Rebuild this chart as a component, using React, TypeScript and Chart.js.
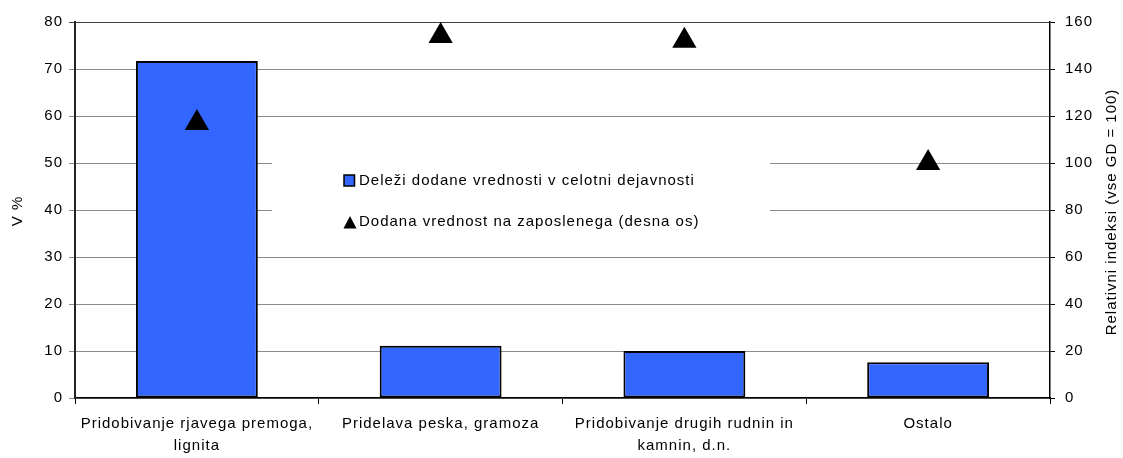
import React, { useEffect, useRef } from "react";
import { Chart, registerables } from "chart.js";

Chart.register(...registerables);

const categories: (string | string[])[] = [
  ["Pridobivanje rjavega premoga,", "lignita"],
  "Pridelava peska, gramoza",
  ["Pridobivanje drugih rudnin in", "kamnin, d.n."],
  "Ostalo",
];
const shareValues = [71.7, 11.1, 10.0, 7.6];
const perEmployeeValues = [117, 154, 152, 100];
const leftTicks = { min: 0, max: 80, step: 10 };
const rightTicks = { min: 0, max: 160, step: 20 };
const seriesNames = [
  "Deleži dodane vrednosti v celotni dejavnosti",
  "Dodana vrednost na zaposlenega (desna os)",
];
const leftTitle = "V %";
const rightTitle = "Relativni indeksi (vse GD = 100)";

const FONT = "'Liberation Sans', Arial, sans-serif";
const FS = 15;
const SPACING = "1px";
const BAR_COLOR = "#3366FF";

const setSpacing = (chart: any) => {
  try {
    (chart.ctx as any).letterSpacing = SPACING;
  } catch (e) {}
};

const overlayPlugin = {
  id: "overlay",
  beforeInit: setSpacing,
  beforeUpdate: setSpacing,
  beforeLayout: setSpacing,
  beforeDraw: setSpacing,
  beforeDatasetsDraw(chart: any) {
    const ctx = chart.ctx;
    ctx.save();
    ctx.fillStyle = "#ffffff";
    ctx.fillRect(272, 138, 498, 102);
    ctx.restore();
  },
  afterDatasetsDraw(chart: any) {
    const ctx = chart.ctx;
    ctx.save();
    (ctx as any).letterSpacing = SPACING;
    // legend item 1: square
    ctx.fillStyle = BAR_COLOR;
    ctx.strokeStyle = "#000";
    ctx.lineWidth = 1.5;
    ctx.fillRect(344, 175, 10.5, 11);
    ctx.strokeRect(344, 175, 10.5, 11);
    // legend item 2: triangle
    ctx.fillStyle = "#000";
    ctx.beginPath();
    ctx.moveTo(350, 216);
    ctx.lineTo(356.5, 228.5);
    ctx.lineTo(343.5, 228.5);
    ctx.closePath();
    ctx.fill();
    ctx.font = `${FS}px ${FONT}`;
    ctx.textBaseline = "middle";
    ctx.textAlign = "left";
    ctx.fillText(seriesNames[0], 359, 181);
    ctx.fillText(seriesNames[1], 359, 222);
    // axis titles
    ctx.textAlign = "center";
    ctx.save();
    ctx.translate(18, 211);
    ctx.rotate(-Math.PI / 2);
    ctx.fillText(leftTitle, 0, 0);
    ctx.restore();
    ctx.save();
    ctx.translate(1112, 212);
    ctx.rotate(-Math.PI / 2);
    ctx.fillText(rightTitle, 0, 0);
    ctx.restore();
    ctx.restore();
  },
};

export default function App() {
  const ref = useRef<HTMLCanvasElement>(null);
  useEffect(() => {
    if (!ref.current) return;
    Chart.defaults.font.family = FONT;
    const chart = new Chart(ref.current, {
      type: "bar",
      data: {
        labels: categories,
        datasets: [
          {
            type: "bar",
            label: seriesNames[0],
            data: shareValues,
            backgroundColor: BAR_COLOR,
            borderColor: "#000",
            borderWidth: 2,
            borderSkipped: false,
            barPercentage: 0.5,
            categoryPercentage: 1,
            yAxisID: "y",
            order: 2,
          } as any,
          {
            type: "line",
            label: seriesNames[1],
            data: perEmployeeValues,
            showLine: false,
            pointStyle: "triangle",
            pointRadius: 14,
            pointHoverRadius: 14,
            backgroundColor: "#000",
            borderColor: "#000",
            borderWidth: 0,
            yAxisID: "y1",
            clip: false,
            order: 1,
          } as any,
        ],
      },
      options: {
        responsive: false,
        animation: false,
        devicePixelRatio: 1,
        layout: { padding: { top: 22, left: 0, right: 0, bottom: 0 } },
        plugins: {
          legend: { display: false },
          tooltip: { enabled: false },
          title: { display: false },
        },
        scales: {
          x: {
            type: "category",
            offset: true,
            grid: {
              offset: true,
              drawOnChartArea: false,
              drawTicks: true,
              tickLength: 6,
              color: "#000",
            },
            border: { color: "#000", width: 1.5 },
            ticks: {
              color: "#000",
              font: { size: FS, lineHeight: 22 / FS },
              padding: 9,
              maxRotation: 0,
              autoSkip: false,
            },
            afterFit: (s: any) => {
              s.height = 60;
            },
          },
          y: {
            position: "left",
            min: leftTicks.min,
            max: leftTicks.max,
            grid: {
              color: (c: any) => (c.tick && c.tick.value === leftTicks.max ? "#404040" : "#8c8c8c"),
              tickLength: 6,
              lineWidth: 1,
            },
            border: { color: "#222", width: 2 },
            ticks: {
              stepSize: leftTicks.step,
              color: "#000",
              font: { size: FS },
              padding: 6,
            },
            afterFit: (s: any) => {
              s.width = 75;
            },
          },
          y1: {
            position: "right",
            min: rightTicks.min,
            max: rightTicks.max,
            grid: {
              drawOnChartArea: false,
              tickLength: 5,
              color: "#000",
            },
            border: { color: "#000", width: 1.5 },
            ticks: {
              stepSize: rightTicks.step,
              color: "#000",
              font: { size: FS },
              padding: 10,
            },
            afterFit: (s: any) => {
              s.width = 73;
            },
          },
        },
      },
      plugins: [overlayPlugin],
    });
    return () => chart.destroy();
  }, []);
  return (
    <div style={{ position: "fixed", left: 0, top: 0, width: 1123, height: 458, background: "#fff" }}>
      <canvas ref={ref} width={1123} height={458} style={{ display: "block" }} />
    </div>
  );
}
